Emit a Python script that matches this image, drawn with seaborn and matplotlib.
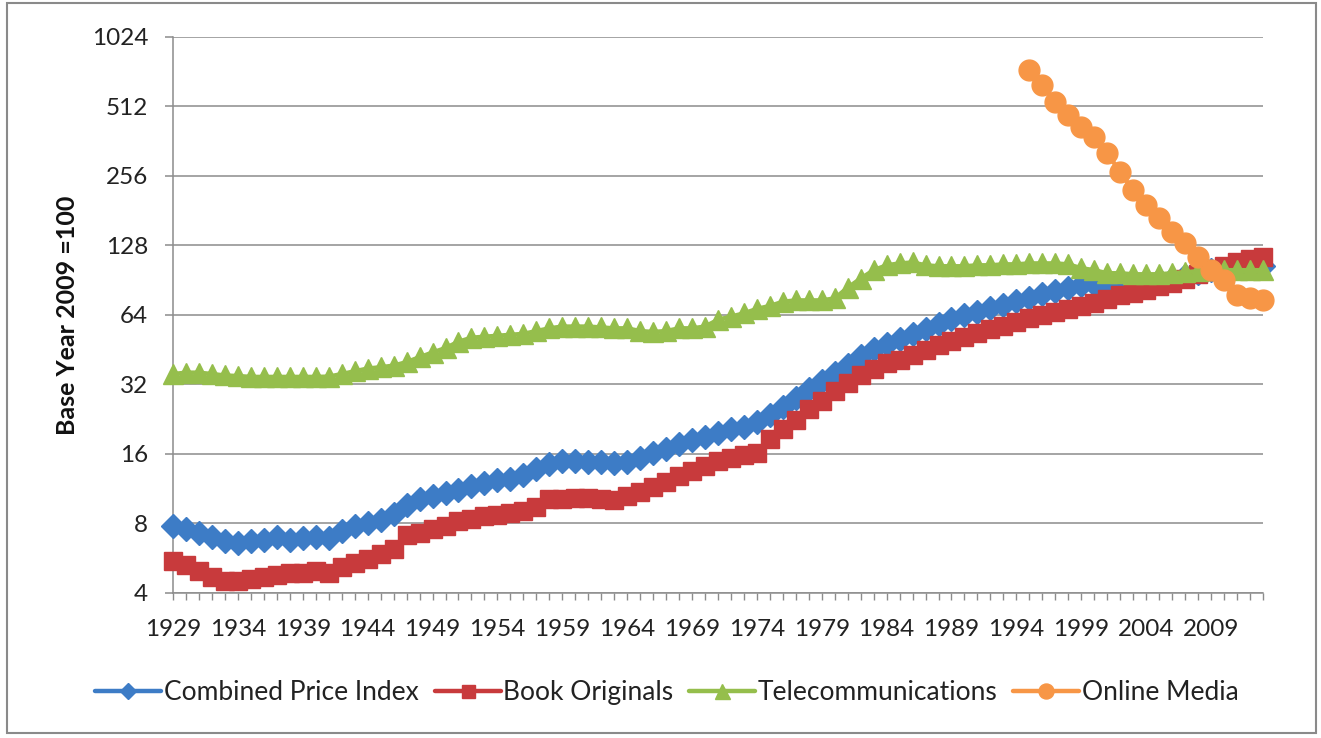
import matplotlib
matplotlib.use("Agg")
import matplotlib.pyplot as plt
import matplotlib.ticker as mticker
from matplotlib.patches import Rectangle
import seaborn as sns

# values (base year 2009 = 100)
years = list(range(1929, 2014))
combined_price_index = [
    7.8, 7.6, 7.3, 7.0, 6.7, 6.6, 6.7, 6.8, 7.0, 6.8,
    6.9, 7.0, 6.9, 7.4, 7.8, 8.0, 8.3, 8.8, 9.6, 10.2,
    10.5, 10.8, 11.2, 11.6, 12.0, 12.3, 12.5, 13.0, 13.8, 14.5,
    14.9, 14.9, 14.8, 14.7, 14.6, 14.8, 15.4, 16.2, 16.8, 17.6,
    18.3, 19.0, 19.8, 20.5, 21.0, 22.0, 23.5, 25.5, 28.0, 30.5,
    33.0, 36.0, 39.0, 42.5, 45.5, 48.0, 50.5, 53.0, 55.5, 58.5,
    61.5, 64.0, 66.0, 68.5, 71.0, 73.5, 76.0, 78.5, 81.0, 83.5,
    86.0, 87.0, 88.0, 88.5, 89.0, 89.5, 90.5, 92.0, 94.0, 97.0,
    100, 101, 102, 103, 104,
]
book_originals = [
    5.5, 5.3, 5.0, 4.7, 4.5, 4.5, 4.6, 4.7, 4.8, 4.9,
    4.9, 5.0, 4.9, 5.2, 5.4, 5.6, 5.9, 6.2, 7.1, 7.3,
    7.6, 7.8, 8.2, 8.4, 8.6, 8.7, 8.9, 9.1, 9.4, 10.2,
    10.2, 10.3, 10.3, 10.2, 10.1, 10.5, 11.0, 11.5, 12.1, 12.8,
    13.5, 14.2, 14.9, 15.4, 15.8, 16.2, 18.5, 20.5, 22.5, 25.0,
    27.0, 30.0, 32.5, 35.0, 37.5, 39.5, 41.0, 43.0, 45.0, 47.5,
    49.5, 51.5, 53.5, 55.5, 57.5, 59.5, 62.0, 64.0, 66.0, 68.0,
    70.0, 72.0, 75.0, 78.0, 80.0, 82.0, 85.0, 88.0, 92.0, 96.0,
    100, 104, 108, 112, 114,
]
telecommunications = [
    35.5, 36.0, 36.0, 35.5, 35.0, 34.8, 34.5, 34.5, 34.5, 34.5,
    34.5, 34.5, 34.6, 35.5, 36.5, 37.5, 38.0, 38.6, 40.0, 42.0,
    44.0, 46.0, 49.0, 51.0, 51.5, 52.0, 52.5, 53.0, 54.5, 56.0,
    57.0, 57.0, 57.0, 56.5, 56.0, 56.0, 54.5, 54.0, 54.5, 56.0,
    56.0, 57.0, 61.0, 63.0, 65.0, 68.0, 70.0, 73.0, 74.0, 74.0,
    74.0, 75.5, 84.0, 92.0, 100.0, 105.0, 107.0, 108.0, 105.0, 104.0,
    104.0, 104.0, 105.0, 105.0, 106.0, 106.0, 107.0, 107.0, 107.0, 106.0,
    102.0, 100.0, 97.0, 97.0, 96.0, 96.0, 96.0, 97.0, 98.0, 99.0,
    100, 100, 100, 100, 100,
]
online_years = list(range(1995, 2014))
online_media = [
    736, 634, 536, 470, 418, 378, 322, 266, 222, 192,
    168, 147, 131, 114, 100, 91, 78, 75.5, 74,
]
y_ticks = [4, 8, 16, 32, 64, 128, 256, 512, 1024]

sns.set_style("white")
plt.rcParams['font.family'] = ['Lato', 'DejaVu Sans']

fig = plt.figure(figsize=(13.21, 7.38), dpi=100)
ax = fig.add_axes([0.131, 0.1965, 0.825, 0.7535])

series = [
    (years, combined_price_index, "Combined Price Index", "#3D7CC6", "D", 12),
    (years, book_originals, "Book Originals", "#C83A3C", "s", 13),
    (years, telecommunications, "Telecommunications", "#95BE4C", "^", 15),
    (online_years, online_media, "Online Media", "#F79646", "o", 15),
]
for xs, ys, name, col, mk, ms in series:
    sns.lineplot(x=xs, y=ys, ax=ax, color=col, marker=mk, markersize=ms,
                 markeredgecolor=col, markeredgewidth=1, linewidth=3.2,
                 label=name, clip_on=False, zorder=3)

ax.set_yscale('log', base=2)
ax.set_ylim(4, 1024)
ax.yaxis.set_major_locator(mticker.FixedLocator(y_ticks))
ax.yaxis.set_major_formatter(mticker.FuncFormatter(lambda v, _: f"{int(v)}"))
ax.yaxis.set_minor_locator(mticker.NullLocator())
ax.grid(axis='y', color='#8c8c8c', linewidth=1.1)
ax.grid(axis='x', visible=False)

ax.set_xlim(1929, 2013)
ax.set_xticks(years)
ax.set_xticklabels([str(y) if (y - 1929) % 5 == 0 else "" for y in years])

ax.tick_params(axis='y', length=6, width=1.1, color='#8c8c8c', pad=12,
               labelsize=17.5, labelcolor='#222222', left=True)
ax.tick_params(axis='x', length=5, width=1, color='#8c8c8c', pad=14,
               labelsize=17.5, labelcolor='#222222', bottom=True)

sns.despine(ax=ax)
for s in ['left', 'bottom']:
    ax.spines[s].set_color('#8c8c8c')
    ax.spines[s].set_linewidth(1.1)

ax.set_xlabel("")
ax.set_ylabel("Base Year 2009 =100", fontsize=18, fontweight='bold', color='#111111')
ax.yaxis.set_label_coords(-0.086, 0.5)

handles, labels = ax.get_legend_handles_labels()
ax.get_legend().remove()
fig.legend(handles, labels, loc='center', bbox_to_anchor=(0.505, 0.061), ncol=4,
           frameon=False, fontsize=19, handlelength=2.5, handletextpad=0.1,
           columnspacing=0.6, markerscale=0.72, labelcolor='#222222')

fig.patches.append(Rectangle((0.0053, 0.0068), 0.9909, 0.9891, transform=fig.transFigure,
                             fill=False, edgecolor='#8a8a8a', linewidth=1.5))

fig.savefig("out.png", dpi=100)
plt.close(fig)
